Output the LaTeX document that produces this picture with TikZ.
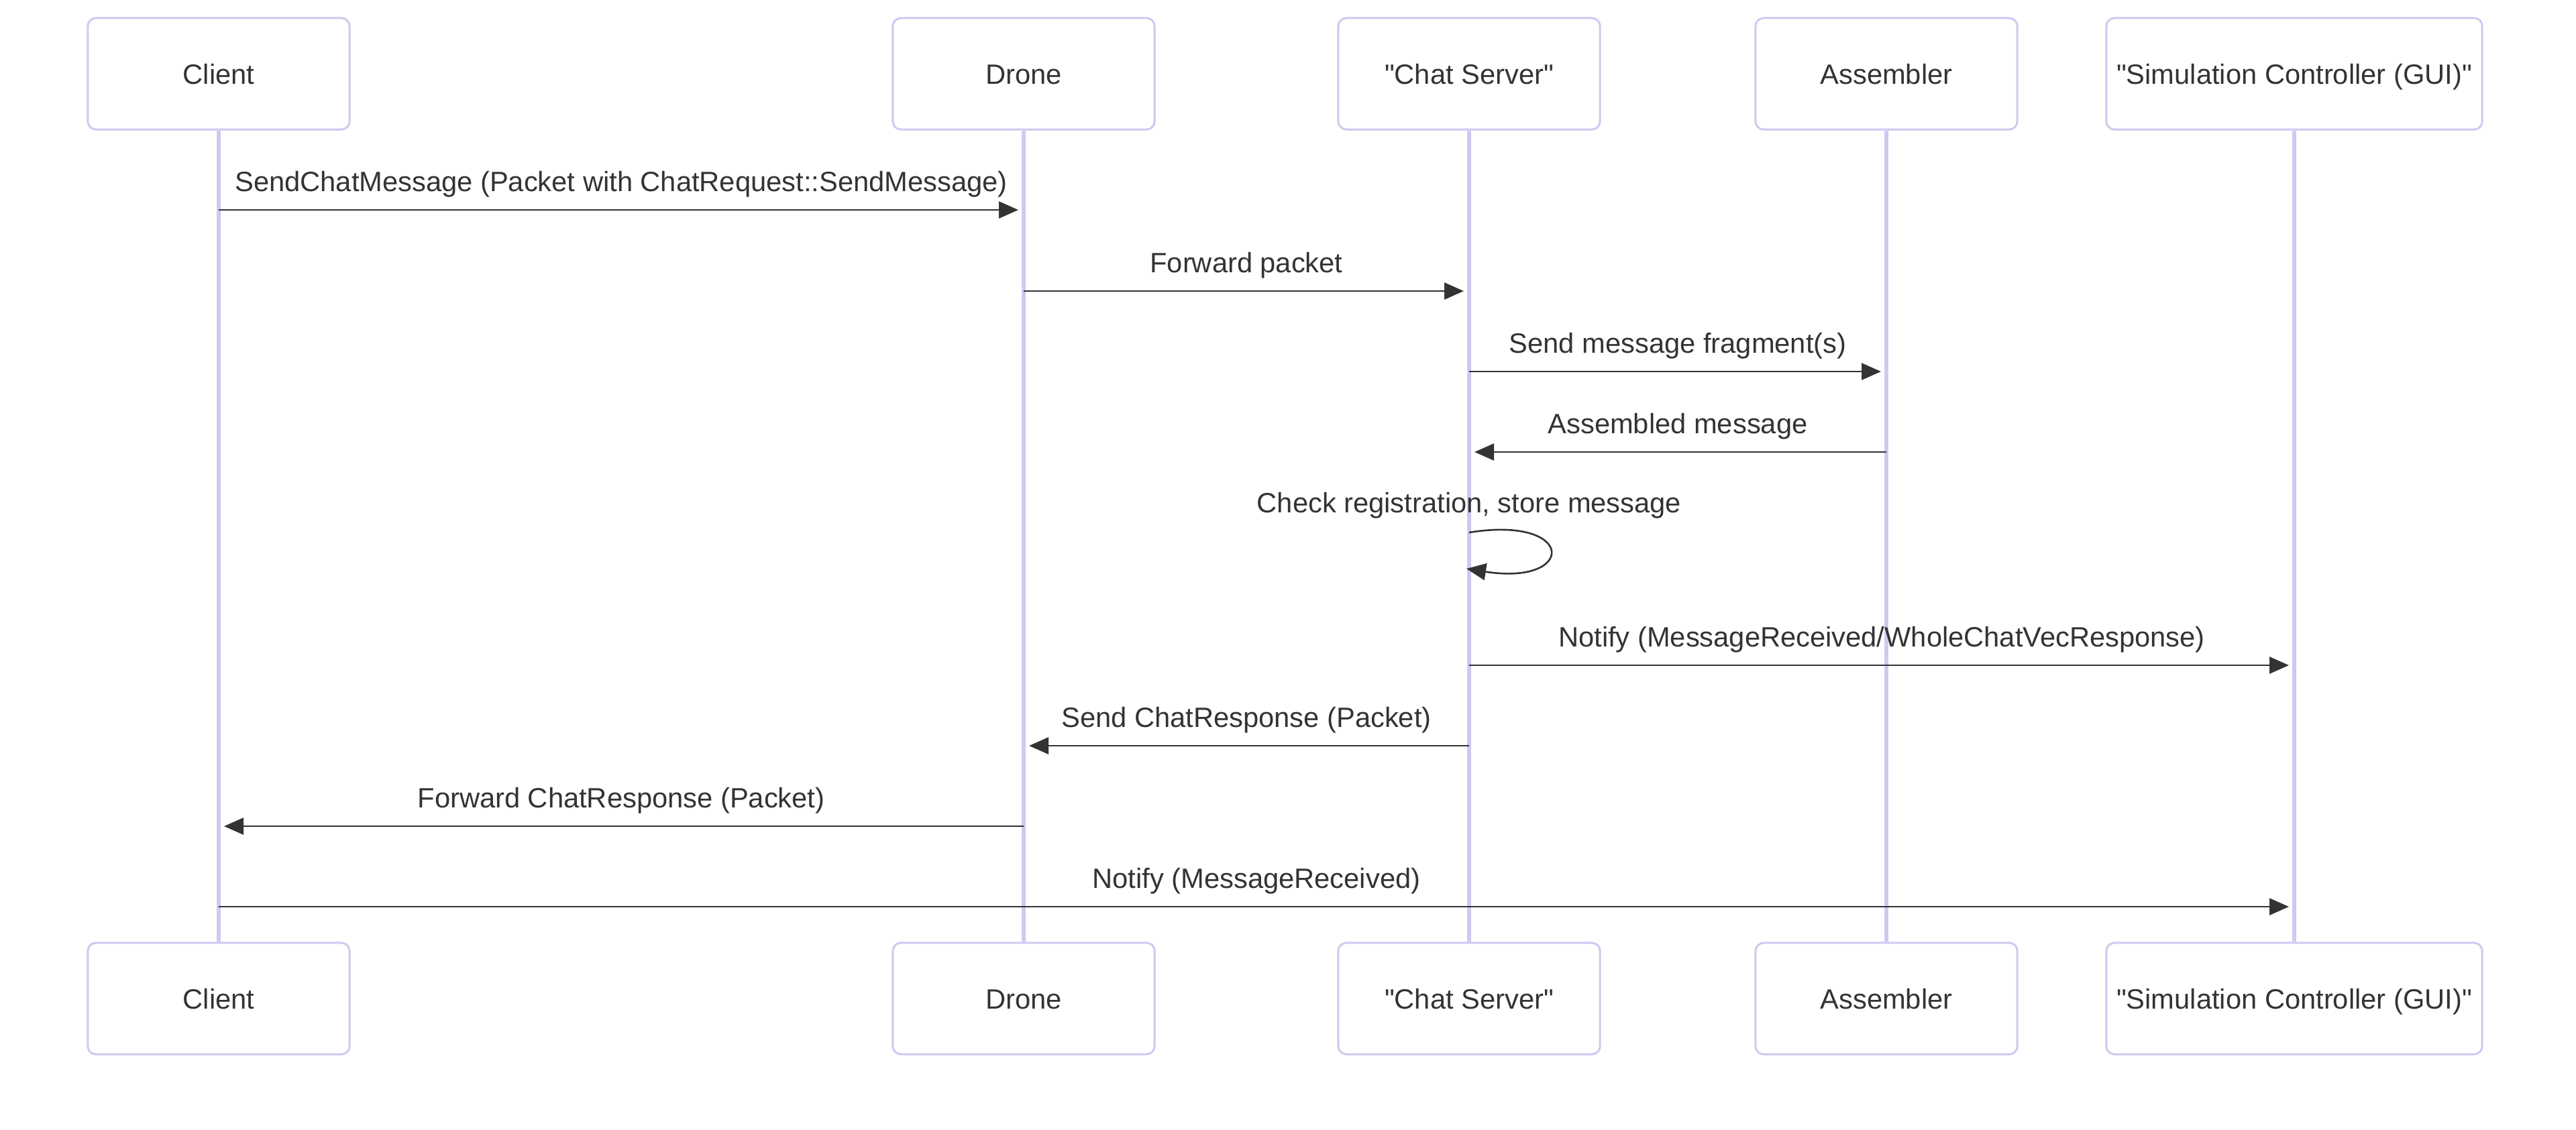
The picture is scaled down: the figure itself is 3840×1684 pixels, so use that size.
\documentclass[tikz,border=0pt]{standalone}
\usepackage{fontspec}
\setmainfont{Liberation Sans}
\usetikzlibrary{arrows.meta,calc}
\definecolor{actorline}{RGB}{204,202,242}
\definecolor{ink}{RGB}{51,51,51}

\begin{document}
\begin{tikzpicture}[x = 0.01cm, y = -0.01cm,
  font = \fontsize{11.85}{14}\selectfont, text = ink,
  actor/.style = {draw = actorline, line width = 0.85pt, fill = white,
    rounded corners = 0.12cm, minimum width = 3.9cm, minimum height = 1.66cm,
    text height = 0.3cm, text depth = 0pt, inner sep = 0pt},
  life/.style = {draw = actorline, line width = 1.5pt},
  msg/.style = {draw = ink, line width = 0.75pt,
    -{Triangle[length = 0.29cm, width = 0.25cm]}},
  lbl/.style = {anchor = base}]
\useasboundingbox (0, 0) rectangle (3840, 1684);

% participants (top)
\node [actor] (client) at (326, 110) {Client};
\node [actor] (drone) at (1526, 110) {Drone};
\node [actor] (chat) at (2190, 110) {\textquotedbl Chat Server\textquotedbl};
\node [actor] (asm) at (2812, 110) {Assembler};
\node [actor, minimum width = 5.6cm] (gui) at (3420, 110) {\textquotedbl Simulation Controller (GUI)\textquotedbl};
% participants (bottom)
\node [actor] (clientB) at (326, 1489) {Client};
\node [actor] (droneB) at (1526, 1489) {Drone};
\node [actor] (chatB) at (2190, 1489) {\textquotedbl Chat Server\textquotedbl};
\node [actor] (asmB) at (2812, 1489) {Assembler};
\node [actor, minimum width = 5.6cm] (guiB) at (3420, 1489) {\textquotedbl Simulation Controller (GUI)\textquotedbl};

% lifelines
\draw [life] (client) -- (clientB);
\draw [life] (drone) -- (droneB);
\draw [life] (chat) -- (chatB);
\draw [life] (asm) -- (asmB);
\draw [life] (gui) -- (guiB);

% message rows
\coordinate (r1) at (0, 313);
\coordinate (r2) at (0, 434);
\coordinate (r3) at (0, 554);
\coordinate (r4) at (0, 674);
\coordinate (r5) at (0, 794);
\coordinate (r6) at (0, 992);
\coordinate (r7) at (0, 1112);
\coordinate (r8) at (0, 1232);
\coordinate (r9) at (0, 1352);

\draw [msg] (client |- r1) -- ($(drone |- r1) + (-8, 0)$);
\node [lbl] (t1) at ($(client |- r1)!0.5!(drone |- r1) + (0, -28)$) {SendChatMessage (Packet with ChatRequest::SendMessage)};

\draw [msg] (drone |- r2) -- ($(chat |- r2) + (-8, 0)$);
\node [lbl] (t2) at ($(drone |- r2)!0.5!(chat |- r2) + (0, -28)$) {Forward packet};

\draw [msg] (chat |- r3) -- ($(asm |- r3) + (-8, 0)$);
\node [lbl] (t3) at ($(chat |- r3)!0.5!(asm |- r3) + (0, -28)$) {Send message fragment(s)};

\draw [msg] (asm |- r4) -- ($(chat |- r4) + (8, 0)$);
\node [lbl] (t4) at ($(asm |- r4)!0.5!(chat |- r4) + (0, -28)$) {Assembled message};

\draw [msg] (chat |- r5) .. controls ($(chat |- r5) + (160, -26)$) and ($(chat |- r5) + (160, 80)$) .. ($(chat |- r5) + (-4, 54)$);
\node [lbl] (t5) at ($(chat |- r5) + (0, -30)$) {Check registration, store message};

\draw [msg] (chat |- r6) -- ($(gui |- r6) + (-8, 0)$);
\node [lbl] (t6) at ($(chat |- r6)!0.5!(gui |- r6) + (0, -28)$) {Notify (MessageReceived/WholeChatVecResponse)};

\draw [msg] (chat |- r7) -- ($(drone |- r7) + (8, 0)$);
\node [lbl] (t7) at ($(chat |- r7)!0.5!(drone |- r7) + (0, -28)$) {Send ChatResponse (Packet)};

\draw [msg] (drone |- r8) -- ($(client |- r8) + (8, 0)$);
\node [lbl] (t8) at ($(drone |- r8)!0.5!(client |- r8) + (0, -28)$) {Forward ChatResponse (Packet)};

\draw [msg] (client |- r9) -- ($(gui |- r9) + (-8, 0)$);
\node [lbl] (t9) at ($(client |- r9)!0.5!(gui |- r9) + (0, -28)$) {Notify (MessageReceived)};
\end{tikzpicture}
\end{document}
